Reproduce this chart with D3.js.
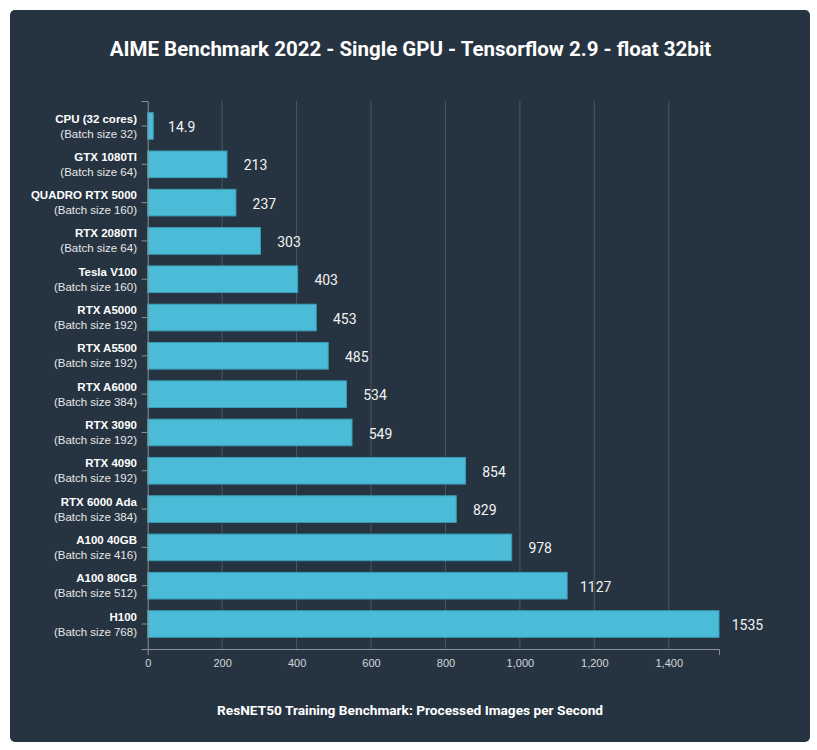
<!DOCTYPE html>
<html><head><meta charset="utf-8">
<script src="https://cdn.jsdelivr.net/npm/d3@7"></script>
<style>
html,body{margin:0;padding:0;background:#fff;}
svg{display:block;}
</style></head>
<body>
<svg id="chart" width="817" height="750"></svg>
<script>
const gpuNames = ["CPU (32 cores)","GTX 1080TI","QUADRO RTX 5000","RTX 2080TI","Tesla V100","RTX A5000","RTX A5500","RTX A6000","RTX 3090","RTX 4090","RTX 6000 Ada","A100 40GB","A100 80GB","H100"];
const batchLabels = ["(Batch size 32)","(Batch size 64)","(Batch size 160)","(Batch size 64)","(Batch size 160)","(Batch size 192)","(Batch size 192)","(Batch size 384)","(Batch size 192)","(Batch size 192)","(Batch size 384)","(Batch size 416)","(Batch size 512)","(Batch size 768)"];
const imagesPerSecond = [14.9,213,237,303,403,453,485,534,549,854,829,978,1127,1535];
const xTicks = [0,200,400,600,800,1000,1200,1400];
const titleText = "AIME Benchmark 2022 - Single GPU - Tensorflow 2.9 - float 32bit";
const xTitle = "ResNET50 Training Benchmark: Processed Images per Second";

const svg = d3.select("#chart");
svg.append("rect").attr("x",10).attr("y",10).attr("width",800).attr("height",732).attr("rx",5).attr("fill","#263441");

svg.append("text").attr("x",410.5).attr("y",55.5).attr("text-anchor","middle")
  .attr("font-family","Roboto, sans-serif").attr("font-weight","bold").attr("font-size",20.5)
  .attr("fill","#ffffff").text(titleText);

const x = d3.scaleLinear().domain([0,1535]).range([147.7,719]);
const y = d3.scaleBand().domain(gpuNames).range([101,649]).padding(0.305);

// grid
svg.append("g").selectAll("line").data(xTicks.filter(d=>d>0)).join("line")
  .attr("x1",d=>x(d)).attr("x2",d=>x(d)).attr("y1",101).attr("y2",649)
  .attr("stroke","#4b5663").attr("stroke-width",1);

// bars
svg.append("g").selectAll("rect").data(imagesPerSecond).join("rect")
  .attr("x",x(0)).attr("y",(d,i)=>y(gpuNames[i]))
  .attr("width",d=>x(d)-x(0)).attr("height",y.bandwidth())
  .attr("fill","#4bbcd7").attr("stroke","#3a9db5").attr("stroke-width",1);

// value labels
svg.append("g").selectAll("text").data(imagesPerSecond).join("text")
  .attr("x",d=>x(d)+28.5).attr("y",(d,i)=>y(gpuNames[i])+y.bandwidth()/2+1.2)
  .attr("dy","0.35em").attr("text-anchor","middle")
  .attr("font-family","Roboto, sans-serif").attr("font-size",14).attr("fill","#f2f2f2")
  .text(d=>String(d));

// y axis
const yAxis = svg.append("g").attr("transform",`translate(${x(0)},0)`)
  .call(d3.axisLeft(y).tickSize(6).tickSizeOuter(6).tickFormat(""));
yAxis.selectAll("path,line").attr("stroke","#8a9097");

// y labels
const lab = svg.append("g");
gpuNames.forEach((n,i)=>{
  const cy = y(n)+y.bandwidth()/2;
  lab.append("text").attr("x",137).attr("y",cy-7.5).attr("dy","0.35em").attr("text-anchor","end")
    .attr("font-family","'Liberation Sans', Arial, sans-serif").attr("font-weight","bold").attr("font-size",11.5)
    .attr("fill","#ffffff").text(n);
  lab.append("text").attr("x",137).attr("y",cy+7.5).attr("dy","0.35em").attr("text-anchor","end")
    .attr("font-family","'Liberation Sans', Arial, sans-serif").attr("font-size",11.5)
    .attr("fill","#e6e6e6").text(batchLabels[i]);
});

// x axis
const xAxis = svg.append("g").attr("transform","translate(0,649)")
  .call(d3.axisBottom(x).tickValues(xTicks).tickSizeInner(0).tickSizeOuter(6).tickPadding(10).tickFormat(d3.format(",")));
xAxis.selectAll("path,line").attr("stroke","#8a9097");
xAxis.selectAll("text").attr("font-family","'Liberation Sans', Arial, sans-serif").attr("font-size",11).attr("fill","#d4d7da");
svg.append("line").attr("x1",141.7).attr("x2",x(0)).attr("y1",649.5).attr("y2",649.5).attr("stroke","#8a9097");

svg.append("text").attr("x",410).attr("y",714.5).attr("text-anchor","middle")
  .attr("font-family","Roboto, sans-serif").attr("font-weight","bold").attr("font-size",13.7)
  .attr("fill","#ffffff").text(xTitle);
</script>
</body></html>
